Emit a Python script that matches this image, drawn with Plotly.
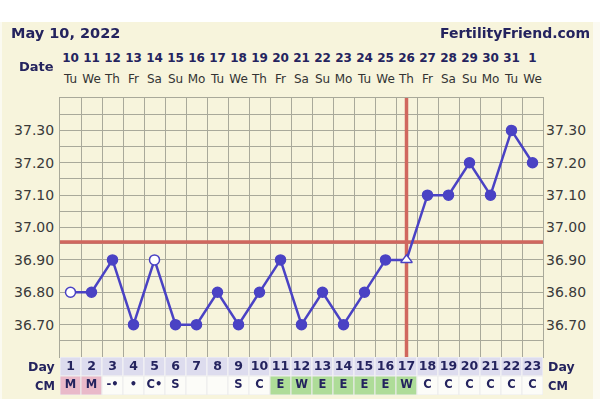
import plotly.graph_objects as go

# ---------------- data ----------------
chart_title = "May 10, 2022"
site_name = "FertilityFriend.com"
cycle_days = list(range(1, 24))
dates = ["10", "11", "12", "13", "14", "15", "16", "17", "18", "19", "20", "21",
         "22", "23", "24", "25", "26", "27", "28", "29", "30", "31", "1"]
weekdays = ["Tu", "We", "Th", "Fr", "Sa", "Su", "Mo", "Tu", "We", "Th", "Fr", "Sa",
            "Su", "Mo", "Tu", "We", "Th", "Fr", "Sa", "Su", "Mo", "Tu", "We"]
temps = [36.80, 36.80, 36.90, 36.70, 36.90, 36.70, 36.70, 36.80, 36.70, 36.80, 36.90, 36.70,
         36.80, 36.70, 36.80, 36.90, 36.90, 37.10, 37.10, 37.20, 37.10, 37.30, 37.20]
cm_codes = ["M", "M", "-•", "•", "C•", "S", "", "", "S", "C", "E", "W",
            "E", "E", "E", "E", "W", "C", "C", "C", "C", "C", "C"]
discarded_days = [1, 5]
ovulation_day = 17
coverline_temp = 36.955
temp_ticks = [36.70, 36.80, 36.90, 37.00, 37.10, 37.20, 37.30]
temp_tick_labels = ["36.70", "36.80", "36.90", "37.00", "37.10", "37.20", "37.30"]
temp_range = [36.60, 37.40]

# ---------------- style ----------------
W, H = 600, 399
L, R, T, B = 60, 57, 48, 4
PW, PH = W - L - R, H - T - B
CREAM = "#f7f4dc"
NAVY = "#24235e"
BLUE = "#4a42c4"
RED = "#d0675e"
GRID = "#a9a99a"
FONT = "DejaVu Sans"


def px_x(px):
    return (px - L) / PW


def px_y(py):
    return (H - B - py) / PH


table_dom = [0, px_y(357)]
temp_dom = [px_y(357), px_y(98)]
head_dom = [px_y(98), 1]

n = len(cycle_days)
xr = [cycle_days[0] - 0.5, cycle_days[-1] + 0.5]

symbols, fills = [], []
for d in cycle_days:
    if d == ovulation_day:
        symbols.append("triangle-up")
        fills.append("white")
    elif d in discarded_days:
        symbols.append("circle")
        fills.append("white")
    else:
        symbols.append("circle")
        fills.append(BLUE)

fig = go.Figure()

fig.add_trace(go.Scatter(
    x=cycle_days, y=temps, mode="lines+markers",
    line=dict(color=BLUE, width=2.5),
    marker=dict(symbol=symbols, color=fills, size=10, opacity=1,
                line=dict(color=BLUE, width=1.5)),
    hoverinfo="skip", showlegend=False, xaxis="x", yaxis="y"))

# invisible trace to activate right-hand axis
fig.add_trace(go.Scatter(x=cycle_days, y=temps, mode="markers", opacity=0,
                         hoverinfo="skip", showlegend=False, xaxis="x", yaxis="y2"))

# header: dates and weekdays
fig.add_trace(go.Scatter(x=cycle_days, y=[39] * n, mode="text", text=dates,
                         textfont=dict(family=FONT, size=12, color=NAVY, weight="bold"),
                         hoverinfo="skip", showlegend=False, xaxis="x2", yaxis="y4"))
fig.add_trace(go.Scatter(x=cycle_days, y=[18] * n, mode="text", text=weekdays,
                         textfont=dict(family=FONT, size=12, color="#333333"),
                         hoverinfo="skip", showlegend=False, xaxis="x2", yaxis="y4"))

# table: day numbers and CM codes
fig.add_trace(go.Scatter(x=cycle_days, y=[1.5] * n, mode="text", text=[str(d) for d in cycle_days],
                         textfont=dict(family=FONT, size=12.5, color=NAVY, weight="bold"),
                         hoverinfo="skip", showlegend=False, xaxis="x2", yaxis="y3"))
fig.add_trace(go.Scatter(x=cycle_days, y=[0.5] * n, mode="text", text=cm_codes,
                         textfont=dict(family=FONT, size=11.5, color=NAVY, weight="bold"),
                         hoverinfo="skip", showlegend=False, xaxis="x2", yaxis="y3"))

shapes = []
# background panel
shapes.append(dict(type="rect", xref="paper", yref="paper", x0=px_x(0), x1=px_x(600),
                   y0=px_y(0), y1=px_y(22), fillcolor="white", line=dict(width=0), layer="below"))
shapes.append(dict(type="rect", xref="paper", yref="paper", x0=px_x(593), x1=px_x(600),
                   y0=px_y(22), y1=px_y(399), fillcolor="#fbfaf1", line=dict(width=0), layer="below"))
shapes.append(dict(type="rect", xref="paper", yref="paper", x0=px_x(0), x1=px_x(2),
                   y0=px_y(22), y1=px_y(399), fillcolor="#fbfaf1", line=dict(width=0), layer="below"))

for d, code in zip(cycle_days, cm_codes):
    shapes.append(dict(type="rect", xref="x2", yref="y3", x0=d - 0.5, x1=d + 0.5, y0=1, y1=2,
                       fillcolor="#dddcee", line=dict(color="#f4f4f4", width=1), layer="below"))
    if code == "M":
        c = "#e9b9c9"
    elif code in ("E", "W"):
        c = "#aedc98"
    else:
        c = "#fcfcf8"
    shapes.append(dict(type="rect", xref="x2", yref="y3", x0=d - 0.5, x1=d + 0.5, y0=0, y1=1,
                       fillcolor=c, line=dict(color="#ececec", width=1), layer="below"))

# coverline & ovulation line
shapes.append(dict(type="line", xref="x", yref="y", x0=xr[0], x1=xr[1],
                   y0=coverline_temp, y1=coverline_temp, line=dict(color=RED, width=3.5), layer="between"))
shapes.append(dict(type="line", xref="x", yref="y", x0=ovulation_day, x1=ovulation_day,
                   y0=temp_range[0], y1=temp_range[1], line=dict(color=RED, width=3.5), layer="between"))

annotations = [
    dict(text=chart_title, xref="paper", yref="paper", x=px_x(9), y=px_y(33),
         xanchor="left", yanchor="middle", showarrow=False,
         font=dict(family=FONT, size=14.5, color=NAVY, weight="bold")),
    dict(text=site_name, xref="paper", yref="paper", x=px_x(592), y=px_y(33),
         xanchor="right", yanchor="middle", showarrow=False,
         font=dict(family=FONT, size=14, color=NAVY, weight="bold")),
    dict(text="Date", xref="paper", yref="paper", x=px_x(56), y=px_y(66),
         xanchor="right", yanchor="middle", showarrow=False,
         font=dict(family=FONT, size=13, color=NAVY, weight="bold")),
]
for label, py, sz in (("Day", 366, 12.5), ("CM", 386, 11.5)):
    annotations.append(dict(text=label, xref="paper", yref="paper", x=px_x(57), y=px_y(py),
                            xanchor="right", yanchor="middle", showarrow=False,
                            font=dict(family=FONT, size=sz, color=NAVY, weight="bold")))
    annotations.append(dict(text=label, xref="paper", yref="paper", x=px_x(546), y=px_y(py),
                            xanchor="left", yanchor="middle", showarrow=False,
                            font=dict(family=FONT, size=sz, color=NAVY, weight="bold")))

grid_x = [d - 0.5 for d in cycle_days] + [cycle_days[-1] + 0.5]

fig.update_layout(
    width=W, height=H, margin=dict(l=L, r=R, t=T, b=B, pad=0),
    paper_bgcolor=CREAM, plot_bgcolor=CREAM,
    showlegend=False, shapes=shapes, annotations=annotations,
    xaxis=dict(domain=[0, 1], range=xr, anchor="y", tickvals=grid_x, showticklabels=False,
               ticks="", showgrid=True, gridcolor=GRID, gridwidth=1, zeroline=False,
               showline=True, linecolor=GRID, linewidth=1, mirror=True, fixedrange=True),
    yaxis=dict(domain=temp_dom, range=temp_range, anchor="x", tickvals=temp_ticks,
               ticktext=temp_tick_labels, ticks="", showgrid=True, gridcolor=GRID, gridwidth=1,
               minor=dict(tick0=temp_range[0], dtick=0.05, showgrid=True, gridcolor=GRID, gridwidth=1),
               zeroline=False, showline=True, linecolor=GRID, linewidth=1, mirror=True,
               tickfont=dict(family=FONT, size=14, color="#3a3a3a"), ticklabelstandoff=2),
    yaxis2=dict(overlaying="y", side="right", anchor="x", range=temp_range, tickvals=temp_ticks,
                ticktext=temp_tick_labels, ticks="", showgrid=False, zeroline=False,
                tickfont=dict(family=FONT, size=14, color="#3a3a3a"), ticklabelstandoff=2),
    xaxis2=dict(domain=[0, 1], range=xr, anchor="y3", visible=False),
    yaxis3=dict(domain=table_dom, range=[0, 2], anchor="x2", visible=False),
    yaxis4=dict(domain=head_dom, range=[0, 50], anchor="x2", visible=False),
)

fig.write_html("out.html", config={"displayModeBar": False, "staticPlot": True},
               post_script="document.body.style.margin='0';document.body.style.overflow='hidden';")
